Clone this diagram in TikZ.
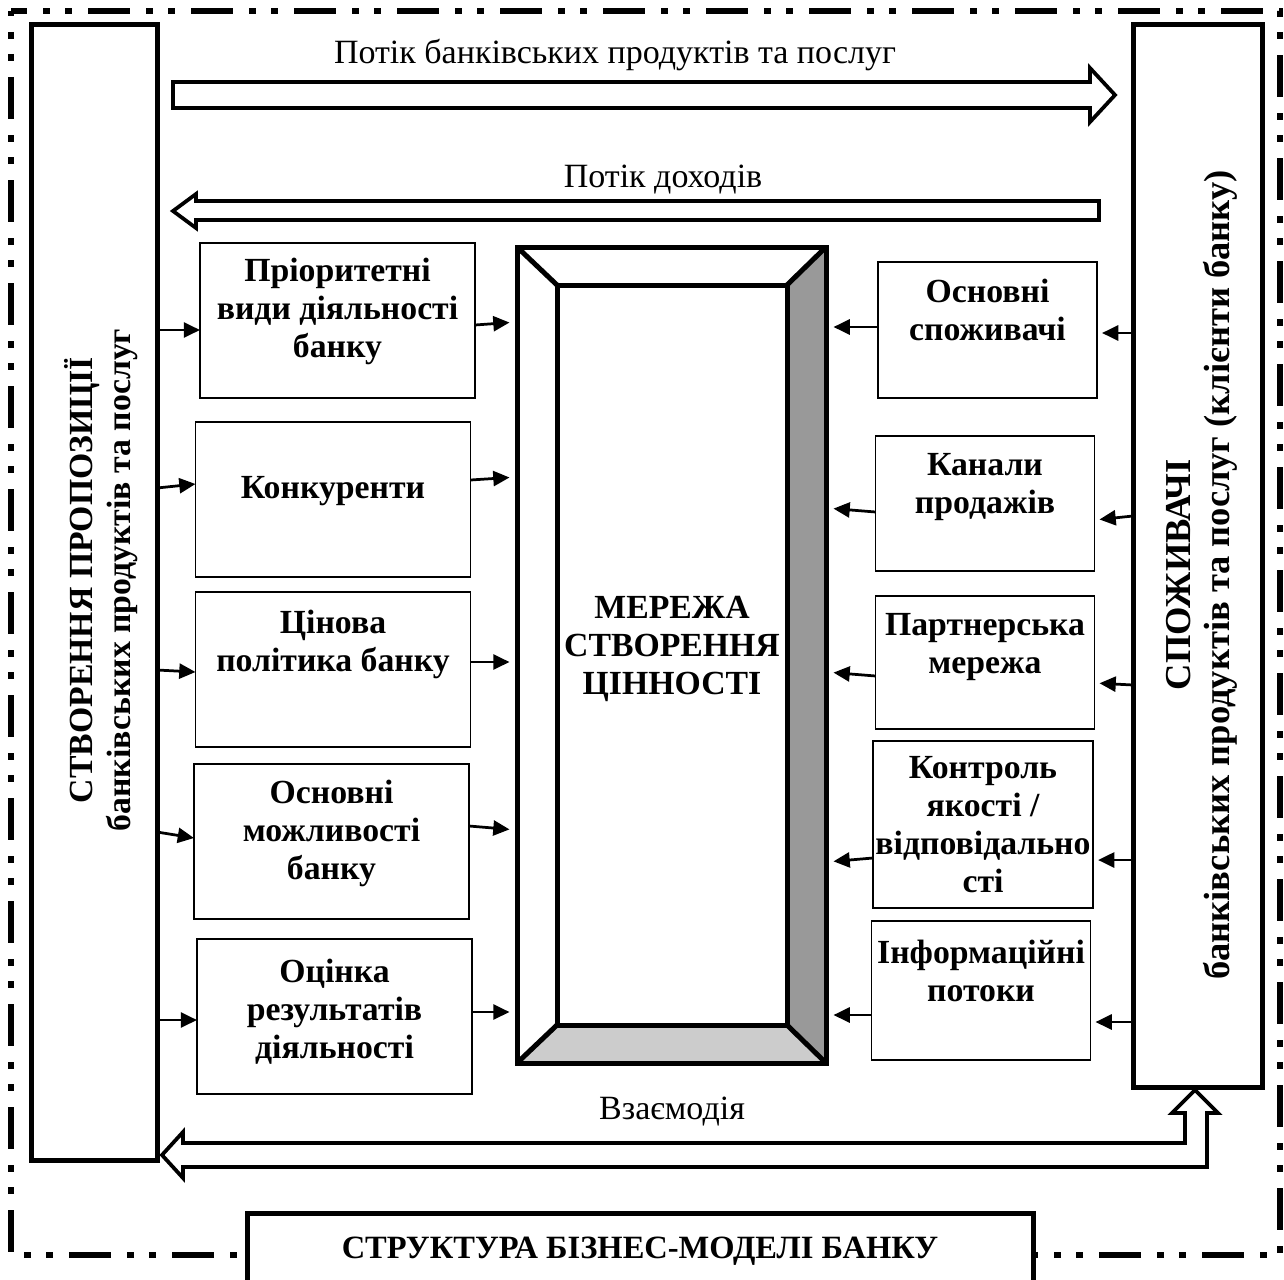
\documentclass[tikz,border=0pt]{standalone}
\usepackage{fontspec}
\setmainfont{Liberation Serif}
\usetikzlibrary{arrows.meta}

\newlength{\pxl}
\setlength{\pxl}{0.4pt}

\tikzset{
  bigbox/.style={line width=2pt, outer sep=0pt},
  box/.style={draw, line width=0.6pt, align=center, inner sep=1pt, outer sep=0pt,
    font=\bfseries\fontsize{13.5pt}{15.2pt}\selectfont},
  lbox/.style={box, minimum width=275\pxl, minimum height=155\pxl},
  rbox/.style={box, minimum width=219\pxl},
  lift/.style={text depth=#1},
  sidetext/.style={rotate=90, align=center, font=\bfseries\fontsize{13.5pt}{15.2pt}\selectfont},
  flow/.style={draw, line width=1.5pt, fill=white},
  lbl/.style={font=\fontsize{13.6pt}{15.2pt}\selectfont},
  sarr/.style={-{Triangle[length=6.5pt,width=6pt]}, line width=1.1pt},
}

\begin{document}
\begin{tikzpicture}[x=0.4pt, y=-0.4pt]
\path[use as bounding box, clip] (0,0) rectangle (1284,1279);

% outer frame
\draw[line width=2.4pt, dash pattern=on 16.8pt off 6.4pt on 2.8pt off 6pt on 2.8pt off 6.4pt,
  dash phase=14.8pt] (11,11) rectangle (1280,1255);

% side blocks
\node[bigbox, draw, minimum width=126\pxl, minimum height=1135\pxl] (prop) at (94,592.5) {};
\node[sidetext] (propt) at (101,580) {СТВОРЕННЯ ПРОПОЗИЦІЇ\\банківських продуктів та послуг};
\node[bigbox, draw, minimum width=129\pxl, minimum height=1062\pxl] (cons) at (1197.5,556) {};
\node[sidetext, font=\bfseries\fontsize{14.6pt}{15.4pt}\selectfont] (const) at (1202,575)
  {СПОЖИВАЧІ\\банківських продуктів та послуг (клієнти банку)};

% flows
\draw[flow] (173,82) -- (1090,82) -- (1090,68) -- (1115,95) -- (1090,122) -- (1090,108) -- (173,108) -- cycle;
\node[lbl] (tprod) at (615,55) {Потік банківських продуктів та послуг};
\draw[flow] (1099,201) -- (196,201) -- (196,194) -- (173,211) -- (196,228) -- (196,220) -- (1099,220) -- cycle;
\node[lbl] (tinc) at (663,180) {Потік доходів};
\draw[flow] (162,1155) -- (183,1132) -- (183,1143) -- (1185,1143) -- (1185,1113) -- (1172,1113)
  -- (1195,1090) -- (1218,1113) -- (1207,1113) -- (1207,1167) -- (183,1167) -- (183,1178) -- cycle;
\node[lbl] (tint) at (672,1112) {Взаємодія};

% value network
\node[minimum width=309\pxl, minimum height=816\pxl, outer sep=0pt] (frame) at (671.5,655) {};
\node[box, draw=none, minimum width=230\pxl, minimum height=740\pxl, lift=8pt] (net) at (672,655)
  {МЕРЕЖА\\СТВОРЕННЯ\\ЦІННОСТІ};
\fill[black!40] (frame.north east) -- (frame.south east) -- (net.south east) -- (net.north east) -- cycle;
\fill[black!20] (frame.south west) -- (frame.south east) -- (net.south east) -- (net.south west) -- cycle;
\draw[line width=2pt] (frame.north west) rectangle (frame.south east);
\draw[line width=2pt] (net.north west) rectangle (net.south east);
\draw[line width=2pt] (frame.north west) -- (net.north west) (frame.north east) -- (net.north east)
  (frame.south west) -- (net.south west) (frame.south east) -- (net.south east);

% left blocks
\node[lbox, lift=10.2pt] (p1) at (337.5,320.5) {Пріоритетні\\види діяльності\\банку};
\node[lbox, lift=9.4pt] (p2) at (333,499.5) {Конкуренти};
\node[lbox, lift=23pt] (p3) at (333,669.5) {Цінова\\політика банку};
\node[lbox, lift=9.4pt] (p4) at (331.5,841.5) {Основні\\можливості\\банку};
\node[lbox, lift=6.2pt] (p5) at (334.5,1016.5) {Оцінка\\результатів\\діяльності};

% right blocks
\node[rbox, minimum height=136\pxl, lift=15.8pt] (q1) at (987.5,330) {Основні\\споживачі};
\node[rbox, minimum height=135\pxl, lift=15.8pt] (q2) at (985,503.5) {Канали\\продажів};
\node[rbox, minimum height=133\pxl, lift=15pt] (q3) at (985,662.5) {Партнерська\\мережа};
\node[rbox, minimum height=167\pxl] (q4) at (983,824.5) {Контроль\\якості /\\відповідально\\сті};
\node[rbox, minimum height=139\pxl, lift=15.8pt] (q5) at (981,990.5) {Інформаційні\\потоки};

% small arrows
\foreach \i/\ya/\yb in {1/330/330, 2/488/484, 3/670/672, 4/832/838, 5/1020/1020}
  \draw[sarr] (prop.east |- 0,\ya) -- (p\i.west |- 0,\yb);
\foreach \i/\ya/\yb in {1/325/322, 2/480/477, 3/662/662, 4/826/830, 5/1012/1012}
  \draw[sarr, shorten >=3pt] (p\i.east |- 0,\ya) -- (frame.west |- 0,\yb);
\foreach \i/\ya/\yb in {1/333/333, 2/516/520, 3/685/683, 4/860/860, 5/1022/1022}
  \draw[sarr, shorten >=2pt] (cons.west |- 0,\ya) -- (q\i.east |- 0,\yb);
\foreach \i/\ya/\yb in {1/327/327, 2/512/508, 3/676/672, 4/858/862, 5/1015/1015}
  \draw[sarr, shorten >=3pt] (q\i.west |- 0,\ya) -- (frame.east |- 0,\yb);

% title
\node[draw, line width=2pt, fill=white, minimum width=786\pxl, minimum height=76\pxl,
  font=\bfseries\fontsize{13pt}{15.2pt}\selectfont] (title) at (640,1251) {СТРУКТУРА БІЗНЕС-МОДЕЛІ БАНКУ};
\end{tikzpicture}
\end{document}
